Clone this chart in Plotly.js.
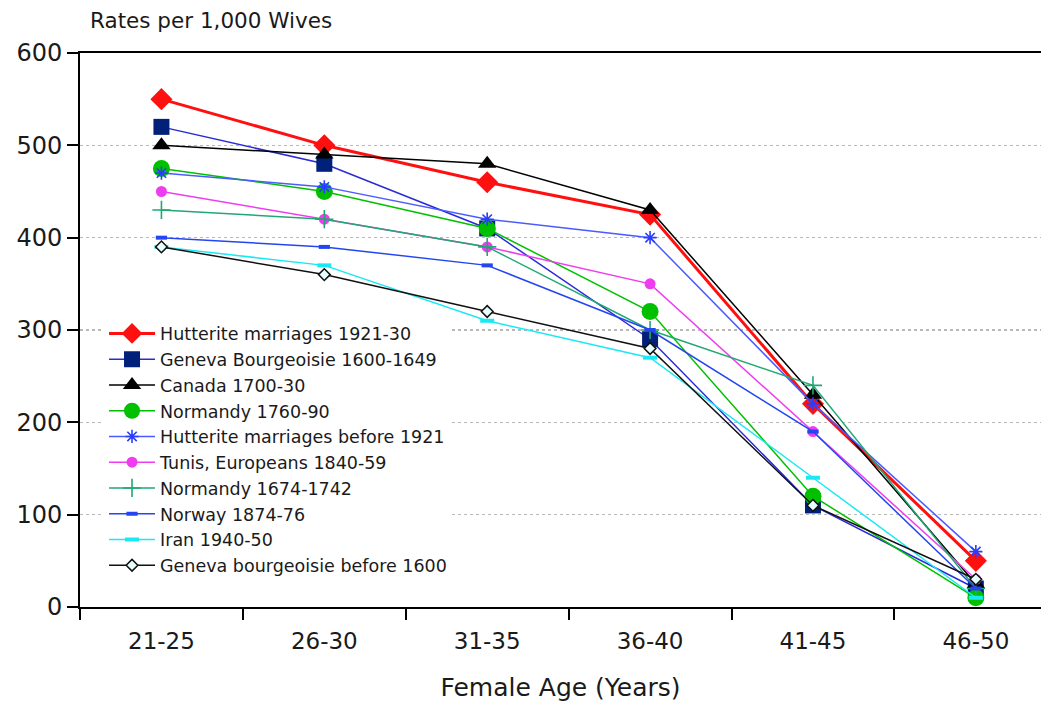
<!DOCTYPE html>
<html>
<head>
<meta charset="utf-8">
<script src="https://cdn.plot.ly/plotly-3.0.1.min.js"></script>
<style>html,body{margin:0;padding:0;background:#fff;}#chart{width:1041px;height:708px;}</style>
</head>
<body>
<div id="chart"></div>
<script>
var ageGroups = ["21-25", "26-30", "31-35", "36-40", "41-45", "46-50"];

var seriesNames = [
  "Hutterite marriages 1921-30",
  "Geneva Bourgeoisie 1600-1649",
  "Canada 1700-30",
  "Normandy 1760-90",
  "Hutterite marriages before 1921",
  "Tunis, Europeans 1840-59",
  "Normandy 1674-1742",
  "Norway 1874-76",
  "Iran 1940-50",
  "Geneva bourgeoisie before 1600"
];

var hutterite1921 = [550, 500, 460, 425, 220, 50];
var geneva1600 = [520, 480, 410, 290, 110, 20];
var canada1700 = [500, 490, 480, 430, 230, 25];
var normandy1760 = [475, 450, 410, 320, 120, 10];
var hutteriteBefore1921 = [470, 455, 420, 400, 220, 60];
var tunis1840 = [450, 420, 390, 350, 190, 30];
var normandy1674 = [430, 420, 390, 300, 240, 20];
var norway1874 = [400, 390, 370, 300, 190, 20];
var iran1940 = [390, 370, 310, 270, 140, 10];
var genevaBefore1600 = [390, 360, 320, 280, 110, 30];

var yTickVals = [0, 100, 200, 300, 400, 500, 600];

var seriesValues = [hutterite1921, geneva1600, canada1700, normandy1760, hutteriteBefore1921,
  tunis1840, normandy1674, norway1874, iran1940, genevaBefore1600];

var styles = [
  {line: {color: "#ff1010", width: 3}, marker: {symbol: "diamond", size: 17, color: "#ff1010"}},
  {line: {color: "#2a2ad6", width: 1.5}, marker: {symbol: "square", size: 16, color: "#00207a"}},
  {line: {color: "#000000", width: 1.5}, marker: {symbol: "triangle-up", size: 16, color: "#000000"}},
  {line: {color: "#00c000", width: 1.5}, marker: {symbol: "circle", size: 17, color: "#00c000"}},
  {line: {color: "#4a5cff", width: 1.5}, marker: {symbol: "asterisk-open", size: 11, color: "#2a3cff", line: {width: 1.6, color: "#2a3cff"}}},
  {line: {color: "#f03cf0", width: 1.5}, marker: {symbol: "circle", size: 11, color: "#f03cf0"}},
  {line: {color: "#20a874", width: 1.5}, marker: {symbol: "cross-thin-open", size: 13, color: "#20a874", line: {width: 1.6, color: "#20a874"}}},
  {line: {color: "#2446f0", width: 1.5}, marker: {symbol: "line-ew-open", size: 8, color: "#2446f0", line: {width: 4, color: "#2446f0"}}},
  {line: {color: "#1ae8f4", width: 1.5}, marker: {symbol: "line-ew-open", size: 10, color: "#1ae8f4", line: {width: 4, color: "#1ae8f4"}}},
  {line: {color: "#111111", width: 1.5}, marker: {symbol: "diamond", size: 9, color: "#e8ffff", line: {width: 1.5, color: "#111111"}}}
];

var traces = seriesNames.map(function (name, i) {
  return {
    type: "scatter",
    mode: "lines+markers",
    name: name,
    x: ageGroups,
    y: seriesValues[i],
    line: styles[i].line,
    marker: styles[i].marker,
    cliponaxis: false
  };
});

var fontFam = "'DejaVu Sans', 'Liberation Sans', Arial, sans-serif";
var txt = "#1a1a1a";

var layout = {
  width: 1041,
  height: 708,
  margin: {l: 80, r: 0, t: 53, b: 101},
  paper_bgcolor: "#ffffff",
  plot_bgcolor: "#ffffff",
  font: {family: fontFam, color: txt},
  showlegend: true,
  legend: {
    x: 0.025, y: 0.526, xanchor: "left", yanchor: "top",
    bgcolor: "#ffffff",
    font: {size: 17.5, family: fontFam, color: txt},
    tracegroupgap: 0,
    itemwidth: 46
  },
  xaxis: {
    type: "category",
    range: [-0.5, 5.4],
    showline: true, linecolor: "#000000", linewidth: 2,
    mirror: true,
    ticks: "outside", ticklen: 11, tickwidth: 2, tickcolor: "#000000",
    tickson: "boundaries",
    ticklabelstandoff: 12,
    tickfont: {size: 23, family: fontFam, color: txt},
    showgrid: false,
    zeroline: false,
    title: {text: "Female Age (Years)", font: {size: 25, family: fontFam, color: txt}, standoff: 26}
  },
  yaxis: {
    range: [0, 600],
    tickvals: yTickVals,
    showline: true, linecolor: "#000000", linewidth: 2,
    ticks: "outside", ticklen: 11, tickwidth: 2, tickcolor: "#000000",
    tickfont: {size: 24, family: fontFam, color: txt},
    showgrid: true, gridcolor: "#b8b8b8", griddash: "dot", gridwidth: 1.5,
    zeroline: false
  },
  annotations: [{
    text: "Rates per 1,000 Wives",
    xref: "paper", yref: "paper",
    x: 0.008, y: 1, xanchor: "left", yanchor: "bottom", yshift: 18,
    showarrow: false,
    font: {size: 21.5, family: fontFam, color: txt}
  }]
};

Plotly.newPlot("chart", traces, layout, {displayModeBar: false, staticPlot: true});
</script>
</body>
</html>
